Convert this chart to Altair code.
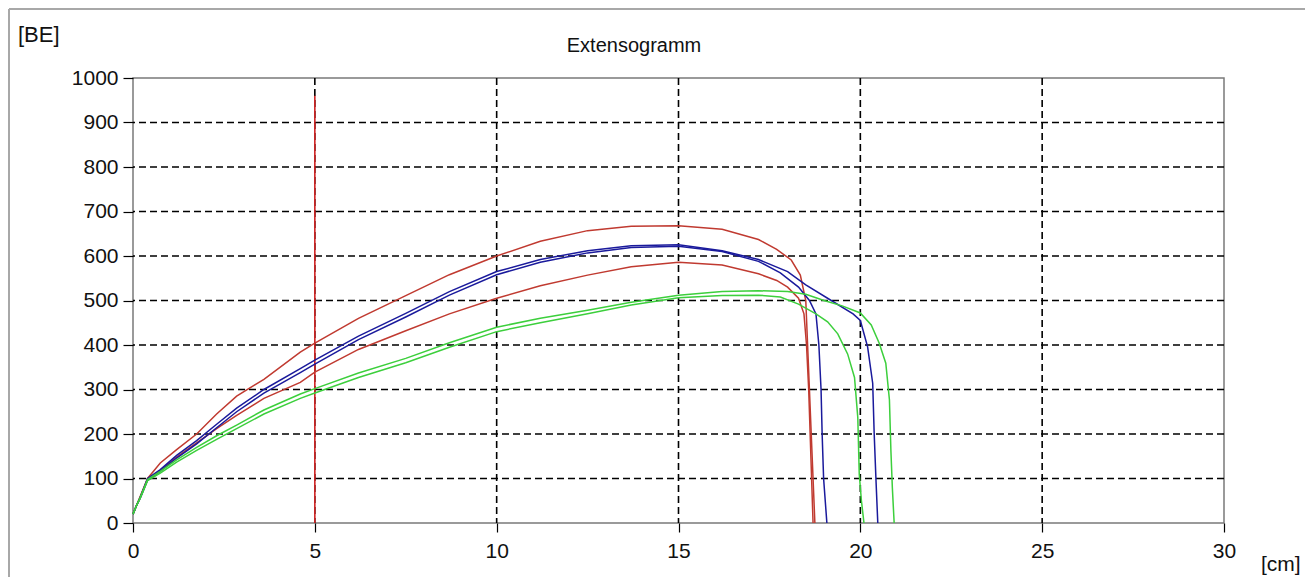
import altair as alt
import pandas as pd

# ---- data ----
X_TICKS = [0, 5, 10, 15, 20, 25, 30]
Y_TICKS = [0, 100, 200, 300, 400, 500, 600, 700, 800, 900, 1000]
GRID_X = [5, 10, 15, 20, 25]
GRID_Y = [100, 200, 300, 400, 500, 600, 700, 800, 900]

MARKER_X = [5]
MARKER_Y0 = [0]
MARKER_Y1 = [960]

red1_x = [0, 0.1, 0.2, 0.4, 0.75, 1.2, 1.75, 2.3, 2.85, 3.6, 4.6, 5, 6.2, 7.5, 8.7, 10, 11.2, 12.5, 13.7, 15, 16.2, 17.2, 17.7, 18.1, 18.35, 18.5, 18.55, 18.6, 18.65, 18.7, 18.75]
red1_y = [20, 40, 60, 100, 135, 165, 200, 245, 285, 323, 384, 404, 460, 511, 558, 600, 633, 657, 667, 668, 660, 637, 615, 591, 557, 500, 400, 300, 200, 100, 0]

red2_x = [0, 0.1, 0.2, 0.4, 0.75, 1.2, 1.75, 2.3, 2.85, 3.6, 4.6, 5, 6.2, 7.5, 8.7, 10, 11.2, 12.5, 13.7, 15, 16.2, 17.2, 17.7, 18.0, 18.3, 18.45, 18.52, 18.58, 18.62, 18.66, 18.7]
red2_y = [20, 40, 58, 98, 118, 148, 180, 212, 242, 280, 316, 339, 390, 432, 470, 505, 533, 557, 576, 586, 580, 560, 545, 530, 505, 470, 400, 300, 200, 100, 0]

blue1_x = [0, 0.1, 0.2, 0.4, 0.75, 1.2, 1.75, 2.3, 2.85, 3.6, 4.6, 5, 6.2, 7.5, 8.7, 10, 11.2, 12.5, 13.7, 15, 16.2, 17.2, 18.0, 18.5, 19.2, 19.8, 20.0, 20.2, 20.34, 20.38, 20.43, 20.48]
blue1_y = [20, 40, 58, 100, 120, 152, 185, 222, 258, 300, 347, 366, 420, 471, 520, 565, 592, 612, 623, 625, 612, 592, 565, 535, 500, 470, 455, 396, 314, 203, 97, 0]

blue2_x = [0, 0.1, 0.2, 0.4, 0.75, 1.2, 1.75, 2.3, 2.85, 3.6, 4.6, 5, 6.2, 7.5, 8.7, 10, 11.2, 12.5, 13.7, 15, 16.2, 17.2, 17.8, 18.3, 18.6, 18.78, 18.86, 18.92, 18.95, 18.99, 19.08]
blue2_y = [20, 40, 56, 96, 116, 146, 178, 214, 250, 292, 338, 357, 412, 463, 512, 558, 586, 607, 619, 622, 610, 588, 562, 530, 500, 470, 400, 300, 200, 100, 0]

green1_x = [0, 0.1, 0.2, 0.4, 0.75, 1.2, 1.75, 2.3, 2.85, 3.6, 4.6, 5, 6.2, 7.5, 8.7, 10, 11.2, 12.5, 13.7, 15, 16.2, 17.2, 18.0, 18.5, 19.0, 19.5, 20.0, 20.3, 20.52, 20.7, 20.8, 20.84, 20.88, 20.93]
green1_y = [20, 40, 58, 98, 116, 142, 170, 196, 220, 254, 290, 302, 337, 370, 405, 440, 460, 478, 496, 512, 520, 522, 520, 514, 500, 488, 472, 445, 404, 359, 277, 164, 80, 0]

green2_x = [0, 0.1, 0.2, 0.4, 0.75, 1.2, 1.75, 2.3, 2.85, 3.6, 4.6, 5, 6.2, 7.5, 8.7, 10, 11.2, 12.5, 13.7, 15, 16.2, 17.2, 17.8, 18.3, 18.78, 19.1, 19.38, 19.65, 19.84, 19.93, 19.97, 20.03, 20.1]
green2_y = [20, 40, 56, 95, 112, 137, 163, 188, 212, 245, 280, 292, 327, 360, 395, 430, 450, 470, 490, 506, 511, 512, 508, 492, 470, 452, 425, 380, 327, 237, 110, 50, 0]

CURVES = [
    ("Rot 1", red1_x, red1_y),
    ("Rot 2", red2_x, red2_y),
    ("Blau 1", blue1_x, blue1_y),
    ("Blau 2", blue2_x, blue2_y),
    ("Grün 1", green1_x, green1_y),
    ("Grün 2", green2_x, green2_y),
]
CURVE_NAMES = [c[0] for c in CURVES]
CURVE_COLORS = ["#c03a30", "#c03a30", "#1a1a9c", "#1a1a9c", "#3ccf3c", "#3ccf3c"]

TITLE = "Extensogramm"
Y_UNIT = "[BE]"
X_UNIT = "[cm]"

# ---- build tables ----
rows = []
for name, xs, ys in CURVES:
    for i, (xv, yv) in enumerate(zip(xs, ys)):
        rows.append({"curve": name, "x": xv, "y": yv, "i": i})
df = pd.DataFrame(rows)

FONT = "Liberation Sans"
xscale = alt.Scale(domain=[0, 30], nice=False, zero=False)
yscale = alt.Scale(domain=[0, 1000], nice=False, zero=False)

X_AX = alt.Axis(values=X_TICKS, grid=False, domain=False, tickColor="black", format="d",
                tickSize=9, tickWidth=1.2, labelFont=FONT, labelFontSize=21,
                labelColor="#111", labelPadding=8, title=None, labelFlush=False)
Y_AX = alt.Axis(values=Y_TICKS, grid=False, domain=False, tickColor="black", format="d",
                tickSize=10, tickWidth=1.2, labelFont=FONT, labelFontSize=21,
                labelColor="#111", labelPadding=5, title=None, labelFlush=False)

grid_y = alt.Chart(pd.DataFrame({"gy": GRID_Y})).mark_rule(
    color="black", strokeDash=[7, 4], strokeWidth=1.6
).encode(y=alt.Y("gy:Q", scale=yscale, axis=Y_AX))

grid_x = alt.Chart(pd.DataFrame({"gx": GRID_X})).mark_rule(
    color="black", strokeDash=[7, 4], strokeWidth=1.6
).encode(x=alt.X("gx:Q", scale=xscale, axis=X_AX))

marker = alt.Chart(pd.DataFrame({"mx": MARKER_X, "y0": MARKER_Y0, "y1": MARKER_Y1})).mark_rule(
    color="#d02424", strokeWidth=1.6
).encode(
    x=alt.X("mx:Q", scale=xscale, axis=X_AX),
    y=alt.Y("y0:Q", scale=yscale, axis=Y_AX),
    y2="y1:Q",
)

lines = alt.Chart(df).mark_line(strokeWidth=1.5, interpolate="linear").encode(
    x=alt.X("x:Q", scale=xscale, axis=X_AX),
    y=alt.Y("y:Q", scale=yscale, axis=Y_AX),
    color=alt.Color("curve:N", scale=alt.Scale(domain=CURVE_NAMES, range=CURVE_COLORS), legend=None),
    detail="curve:N",
    order="i:Q",
)

title_txt = alt.Chart(pd.DataFrame({"t": [TITLE]})).mark_text(
    font=FONT, fontSize=20, color="#111", align="center", baseline="alphabetic"
).encode(x=alt.value(501), y=alt.value(-26), text="t:N")

yunit_txt = alt.Chart(pd.DataFrame({"t": [Y_UNIT]})).mark_text(
    font=FONT, fontSize=22, color="#111", align="left", baseline="alphabetic"
).encode(x=alt.value(-115), y=alt.value(-36), text="t:N")

xunit_txt = alt.Chart(pd.DataFrame({"t": [X_UNIT]})).mark_text(
    font=FONT, fontSize=21, color="#111", align="left", baseline="alphabetic"
).encode(x=alt.value(1128), y=alt.value(493), text="t:N")

border_left = alt.Chart(pd.DataFrame({"k": [0]})).mark_rule(color="#a8a8a8", strokeWidth=2).encode(
    x=alt.value(-124), y=alt.value(-69), y2=alt.value(500)
)
border_top = alt.Chart(pd.DataFrame({"k": [0]})).mark_rule(color="#a8a8a8", strokeWidth=2).encode(
    x=alt.value(-124), x2=alt.value(1172), y=alt.value(-69)
)

chart = alt.layer(
    border_left, border_top, grid_y, grid_x, marker, lines, title_txt, yunit_txt, xunit_txt
).properties(
    width=1091, height=445,
    autosize=alt.AutoSizeParams(type="none"),
    padding={"left": 125, "top": 70, "right": 81, "bottom": 54},
    background="white",
).configure_view(
    stroke="#7a7a7a", strokeWidth=1.5
)

chart.save("out.html", embed_options={"renderer": "svg", "actions": False})
